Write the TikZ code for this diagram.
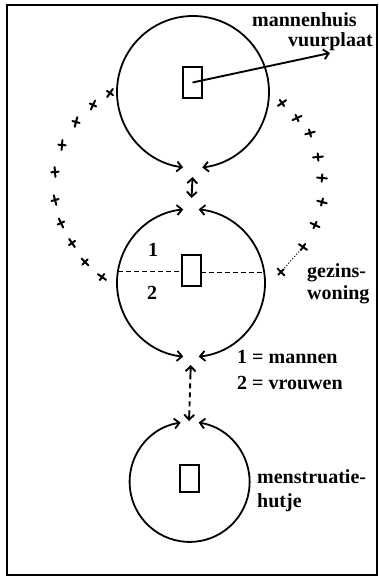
\documentclass[tikz,border=0pt]{standalone}
\usepackage{fontspec}
\setmainfont{Liberation Serif}
\usetikzlibrary{arrows.meta}
\begin{document}
\begin{tikzpicture}[
  x=1pt,y=1pt,
  ring/.style={circle,draw=none,inner sep=0pt,outer sep=0pt,minimum size=#1},
  hearth/.style={rectangle,draw,line width=1.7pt,inner sep=0pt,outer sep=0pt,minimum width=19pt,minimum height=#1},
  wall/.style={line width=1.8pt},
  barb/.style={line width=1.9pt},
  lbl/.style={font=\fontsize{20}{22}\selectfont\bfseries,inner sep=0pt,anchor=west},
  >={Straight Barb[length=5pt,width=10pt]},
  xmark/.pic={\draw[line width=2pt,line cap=round] (-3.5,-3.5)--(3.5,3.5) (-2.6,2.6)--(2.6,-2.6);}
]
\useasboundingbox (0,0) rectangle (379,-579);
\draw[line width=2.4pt] (7,-5) rectangle (377,-575);

% circles (as named nodes, drawn as arrowed arcs)
\node[ring=152pt] (top) at (193,-92) {};
\node[ring=148pt] (mid) at (191,-283) {};
\node[ring=120pt] (bot) at (189,-482) {};

\draw[wall,<->] (top.277) arc[start angle=277,end angle=622.5,radius=76];
\draw[wall,<->] (mid.96) arc[start angle=96,end angle=264,radius=74];
\draw[wall,<->] (mid.276) arc[start angle=276,end angle=444,radius=74];
\draw[wall,<->] (bot.98.6) arc[start angle=98.6,end angle=441.4,radius=60];

% hearths
\node[hearth=31pt] (fire1) at (192.5,-82.5) {};
\node[hearth=31pt] (fire2) at (191.5,-270.5) {};
\node[hearth=27pt] (fire3) at (189.5,-478.5) {};

% dividing line in family house
\draw[line width=1.5pt,dash pattern=on 5pt off 3pt] (mid.171.45) -- (mid.171.45 -| fire2.west);
\draw[line width=1.5pt,dash pattern=on 5pt off 3pt] (mid.8.55 -| fire2.east) -- (mid.8.55);
\node[lbl,anchor=center] (one) at (153,-250) {1};
\node[lbl,anchor=center] (two) at (152,-293) {2};

% connectors between houses
\draw[barb,<->,shorten <=9pt,shorten >=11pt] (top.south) -- (mid.north);
\draw[barb,<->,dash pattern=on 12pt off 4pt on 5pt off 4pt on 5pt off 4pt on 5pt off 4pt,shorten <=8pt,shorten >=1pt] (mid.south) -- (bot.north);

% label arrow
\coordinate (vtip) at (330,-53);
\draw[barb,->] (fire1.center) -- (vtip);

% cross marks
\foreach \n/\x/\y/\r in {l1/110/93/10,l2/93/105/20,l3/76/122/30,l4/62/145/40,l5/55/172/50,
  l6/55/200/60,l7/61/223/70,l8/72/243/80,l9/85/262/90,l10/102/277/100,
  r1/282/103/-10,r2/297/118/-20,r3/310/133/-30,r4/318/157/-40,r5/322/178/-50,
  r6/322/202/-60,r7/315/225/-70,r8/303/247/-80,r9/281/272/-90}{
  \coordinate (\n) at (\x,-\y);
  \pic[rotate=\r] at (\n) {xmark};
}
\draw[line width=1pt,dotted] (r8) -- (r9);

% labels
\node[lbl] (mh) at (252,-20) {mannenhuis};
\node[lbl] (vp) at (288,-42) {vuurplaat};
\node[lbl] (k1) at (237,-357) {1 = mannen};
\node[lbl] (k2) at (237,-383) {2 = vrouwen};
\node[lbl] (gz) at (307,-273) {gezins-};
\node[lbl] (wn) at (307,-295) {woning};
\node[lbl] (ms) at (257,-477) {menstruatie-};
\node[lbl] (ht) at (257,-503) {hutje};
\end{tikzpicture}
\end{document}
